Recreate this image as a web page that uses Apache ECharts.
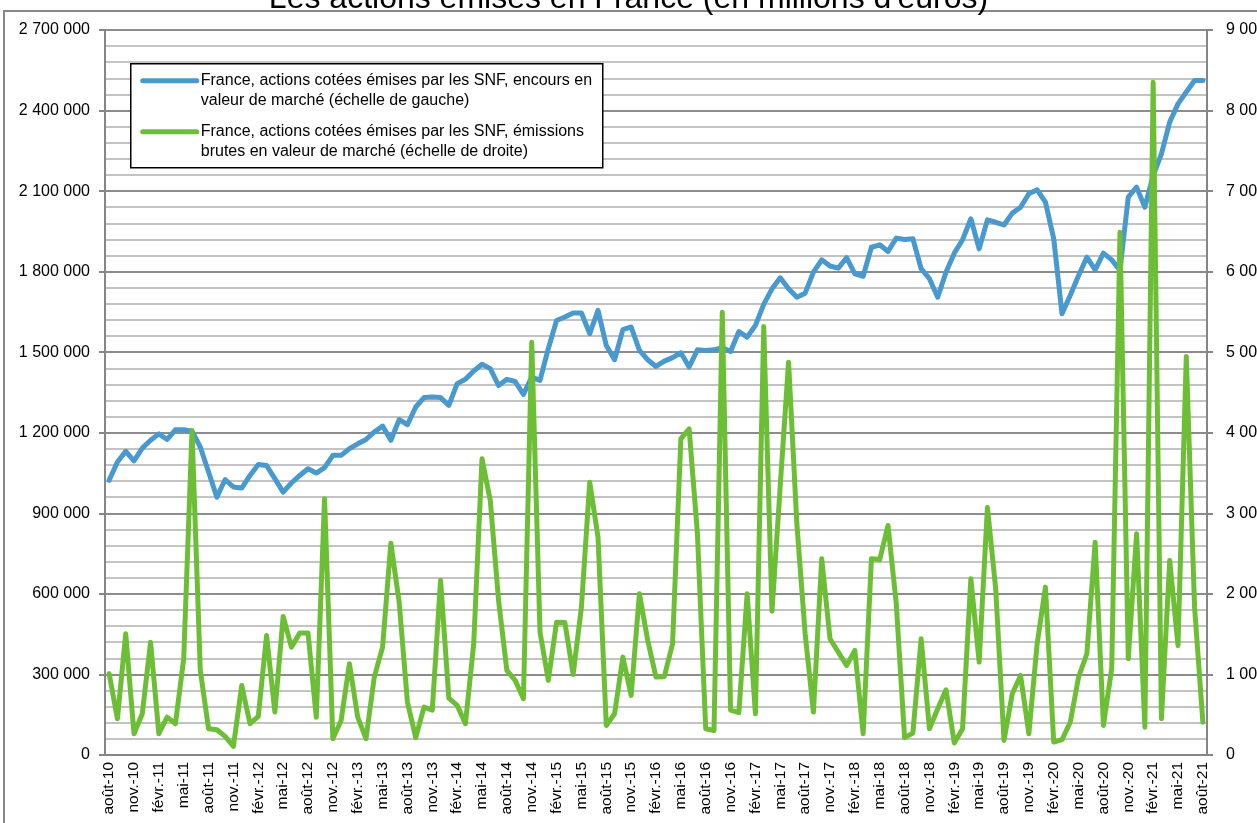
<!DOCTYPE html>
<html lang="fr" style="height: 100%">

<head>
  <meta charset="utf-8">
</head>

<body style="height: 100%; margin: 0; background: #fff">
  <div id="container" style="width: 1257px; height: 823px"></div>

  <script type="text/javascript" src="https://fastly.jsdelivr.net/npm/echarts@6/dist/echarts.min.js"></script>
  <script type="text/javascript">
    // mois affichés en "mmm-aa", d'août 2010 à août 2021
    var monthNames = ['janv.', 'févr.', 'mars', 'avr.', 'mai', 'juin', 'juil.', 'août', 'sept.', 'oct.', 'nov.', 'déc.'];
    var startYear = 2010, startMonth = 7, nbMonths = 133;

    // encours en valeur de marché (échelle de gauche), millions d'euros
    var encours = [
      1023000, 1091000, 1131000, 1095000, 1143000, 1172000, 1196000, 1175000, 1211000, 1211000,
      1206000, 1147000, 1054000, 960000, 1026000, 998000, 994000, 1041000, 1082000, 1078000,
      1029000, 979000, 1013000, 1041000, 1066000, 1050000, 1070000, 1116000, 1116000, 1141000,
      1159000, 1175000, 1203000, 1225000, 1172000, 1249000, 1230000, 1296000, 1331000, 1333000,
      1331000, 1302000, 1383000, 1399000, 1430000, 1455000, 1439000, 1376000, 1399000, 1391000,
      1343000, 1407000, 1395000, 1513000, 1618000, 1631000, 1646000, 1646000, 1569000, 1656000,
      1525000, 1472000, 1584000, 1594000, 1507000, 1472000, 1447000, 1467000, 1480000, 1498000,
      1445000, 1509000, 1506000, 1509000, 1517000, 1503000, 1577000, 1556000, 1600000, 1678000,
      1736000, 1777000, 1736000, 1705000, 1720000, 1798000, 1844000, 1821000, 1813000, 1852000,
      1792000, 1783000, 1891000, 1900000, 1875000, 1925000, 1920000, 1923000, 1811000, 1774000,
      1705000, 1798000, 1869000, 1919000, 1997000, 1885000, 1993000, 1984000, 1974000, 2018000,
      2040000, 2090000, 2105000, 2059000, 1923000, 1643000, 1712000, 1786000, 1854000, 1807000,
      1869000, 1844000, 1805000, 2078000, 2115000, 2040000, 2158000, 2239000, 2357000, 2425000,
      2469000, 2512000, 2512000
    ];

    // émissions brutes en valeur de marché (échelle de droite)
    var emissions = [
      1009, 450, 1505, 264, 512, 1401, 264, 470, 388, 1195,
      4028, 1050, 326, 314, 231, 107, 864, 388, 479, 1484,
      533, 1720, 1339, 1513, 1513, 470, 3180, 202, 429, 1133,
      470, 202, 967, 1339, 2630, 1898, 657, 216, 595, 558,
      2170, 705, 616, 388, 1381, 3677, 3160, 1919, 1050, 926,
      699, 5124, 1525, 926, 1649, 1645, 1000, 1835, 3387, 2704,
      367, 512, 1215, 740, 2001, 1422, 967, 972, 1381, 3925,
      4049, 2746, 326, 305, 5496, 558, 527, 2001, 512, 5319,
      1786, 3350, 4876, 2870, 1505, 533, 2436, 1443, 1277, 1112,
      1298, 264, 2436, 2426, 2849, 1877, 215, 272, 1443, 326,
      574, 810, 150, 326, 2188, 1153, 3073, 2060, 181, 760,
      988, 264, 1381, 2084, 160, 190, 408, 967, 1257, 2642,
      367, 1071, 6489, 1195, 2746, 346, 8351, 450, 2415, 1360,
      4947, 1835, 408
    ];

    var seriesNames = [
      'France, actions cotées émises par les SNF, encours en\nvaleur de marché (échelle de gauche)',
      'France, actions cotées émises par les SNF, émissions\nbrutes en valeur de marché (échelle de droite)'
    ];
    var colors = ['#4799cf', '#6cbf35'];

    var months = [];
    for (var k = 0; k < nbMonths; k++) {
      var m = (startMonth + k) % 12;
      var y = startYear + Math.floor((startMonth + k) / 12);
      months.push(monthNames[m] + '-' + String(y).slice(2));
    }

    function spaced(v) {
      return String(v).replace(/\B(?=(\d{3})+(?!\d))/g, ' ');
    }

    var font = 'Liberation Sans, Arial, sans-serif';
    var dom = document.getElementById('container');
    var myChart = echarts.init(dom, null, { renderer: 'canvas' });

    var option = {
      animation: false,
      backgroundColor: '#fff',
      title: {
        text: "Les actions émises en France (en millions d'euros)",
        left: 'center',
        top: -22,
        textStyle: { fontFamily: font, fontSize: 32, fontWeight: 'normal', color: '#000' }
      },
      // les étiquettes de droite débordent volontairement du cadre
      grid: { left: 105, right: 50, top: 30, bottom: 68, containLabel: false, outerBoundsMode: 'none' },
      xAxis: {
        type: 'category',
        data: months,
        boundaryGap: true,
        axisLine: { lineStyle: { color: '#868686', width: 2 } },
        axisTick: { interval: 2, length: 6, lineStyle: { color: '#868686', width: 2 } },
        axisLabel: {
          interval: 2, rotate: 90, margin: 7,
          fontFamily: font, fontSize: 15.5, color: '#000'
        },
        splitLine: { show: false }
      },
      yAxis: [{
        type: 'value',
        min: 0, max: 2700000, interval: 300000,
        axisLine: { show: true, lineStyle: { color: '#868686', width: 2 } },
        axisTick: { show: true, length: 6, lineStyle: { color: '#868686', width: 2 } },
        axisLabel: { formatter: spaced, margin: 15, fontFamily: font, fontSize: 16, color: '#000' },
        splitLine: { show: true, lineStyle: { color: '#8c8c8c', width: 2 } },
        minorTick: { show: false, splitNumber: 5 },
        minorSplitLine: { show: true, lineStyle: { color: '#c3c3c3', width: 2 } }
      }, {
        type: 'value',
        min: 0, max: 9000, interval: 1000,
        axisLine: { show: true, lineStyle: { color: '#868686', width: 2 } },
        axisTick: { show: true, length: 6, lineStyle: { color: '#868686', width: 2 } },
        axisLabel: { formatter: spaced, margin: 19, fontFamily: font, fontSize: 16, color: '#000' },
        splitLine: { show: false }
      }],
      series: [{
        name: seriesNames[0],
        type: 'line',
        yAxisIndex: 0,
        data: encours,
        showSymbol: false,
        lineStyle: { color: colors[0], width: 5, join: 'round', cap: 'round' },
        itemStyle: { color: colors[0] },
        z: 3
      }, {
        name: seriesNames[1],
        type: 'line',
        yAxisIndex: 1,
        data: emissions,
        showSymbol: false,
        lineStyle: { color: colors[1], width: 5, join: 'round', cap: 'round' },
        itemStyle: { color: colors[1] },
        z: 4
      }],
      graphic: [
        // cadre du graphique
        {
          type: 'rect', silent: true, z: 0,
          shape: { x: 4, y: 11, width: 1300, height: 900 },
          style: { fill: 'none', stroke: '#888', lineWidth: 2 }
        },
        // légende, au-dessus du quadrillage
        {
          type: 'group', left: 130, top: 63, z: 100,
          children: [
            { type: 'rect', z: 100, shape: { x: 0, y: 0, width: 472, height: 104 }, style: { fill: '#fff', stroke: '#000', lineWidth: 1.5 } },
            { type: 'line', z: 101, shape: { x1: 12, y1: 17, x2: 66, y2: 17 }, style: { stroke: colors[0], lineWidth: 5, lineCap: 'round' } },
            { type: 'text', z: 101, style: { x: 70, y: 27, text: seriesNames[0], verticalAlign: 'middle', lineHeight: 20, fontFamily: font, fontSize: 16, fill: '#000' } },
            { type: 'line', z: 101, shape: { x1: 12, y1: 68, x2: 66, y2: 68 }, style: { stroke: colors[1], lineWidth: 5, lineCap: 'round' } },
            { type: 'text', z: 101, style: { x: 70, y: 78, text: seriesNames[1], verticalAlign: 'middle', lineHeight: 20, fontFamily: font, fontSize: 16, fill: '#000' } }
          ]
        }
      ]
    };

    myChart.setOption(option);
    window.addEventListener('resize', myChart.resize);
  </script>
</body>

</html>
